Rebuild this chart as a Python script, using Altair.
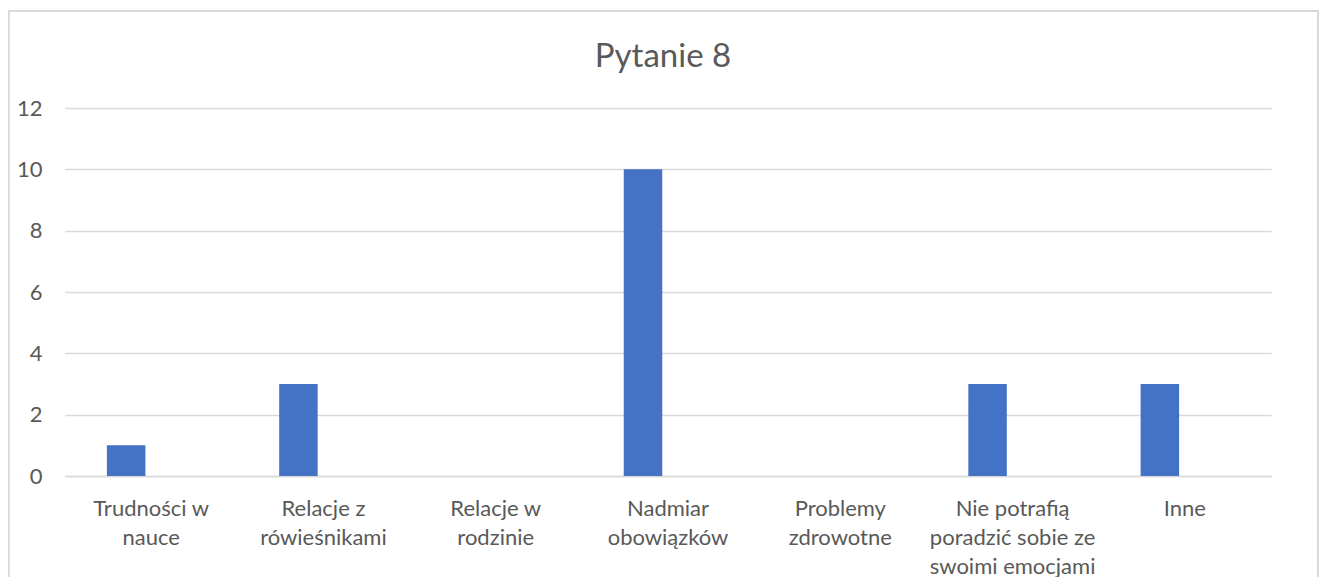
import altair as alt
import pandas as pd

categories = [
    "Trudności w\nnauce",
    "Relacje z\nrówieśnikami",
    "Relacje w\nrodzinie",
    "Nadmiar\nobowiązków",
    "Problemy\nzdrowotne",
    "Nie potrafią\nporadzić sobie ze\nswoimi emocjami",
    "Inne",
]
values = [1, 3, 0, 10, 0, 3, 3]
y_ticks = [0, 2, 4, 6, 8, 10, 12]
title_text = ["Pytanie 8"]

df = pd.DataFrame({"kategoria": categories, "liczba": values})
df_title = pd.DataFrame({"t": title_text})

GRAY_TEXT = "#595959"
GRID = "#d9d9d9"
FONT = "Lato"

x_enc = alt.X(
    "kategoria:N",
    sort=categories,
    scale=alt.Scale(paddingInner=0, paddingOuter=0),
    axis=alt.Axis(
        title=None,
        labelAngle=0,
        labelExpr="split(datum.label, '\\n')",
        labelFontSize=22,
        labelLineHeight=29,
        labelColor=GRAY_TEXT,
        labelFont=FONT,
        labelPadding=22,
        ticks=False,
        domain=True,
        domainColor=GRID,
        domainWidth=1.5,
        labelLimit=400,
        grid=False,
    ),
)

y_enc = alt.Y(
    "liczba:Q",
    scale=alt.Scale(domain=[0, 12], nice=False, zero=True),
    axis=alt.Axis(
        title=None,
        values=y_ticks,
        labelFontSize=22,
        labelColor=GRAY_TEXT,
        labelFont=FONT,
        labelPadding=23,
        ticks=False,
        domain=False,
        grid=True,
        gridColor=GRID,
        gridWidth=1.5,
    ),
)

bars = alt.Chart(df).mark_bar(color="#4472C4", width=38.5, xOffset=-25).encode(
    x=x_enc, y=y_enc
)

frame = alt.Chart(df).mark_rect(
    fill=None, stroke=GRID, strokeWidth=1.5, clip=False
).encode(
    x=alt.value(-56.5),
    x2=alt.value(1253),
    y=alt.value(-97),
    y2=alt.value(520),
)

title = alt.Chart(df_title).mark_text(
    font=FONT, fontSize=33, color=GRAY_TEXT, align="center", baseline="middle"
).encode(
    text="t:N",
    x=alt.value(598),
    y=alt.value(-51),
)

chart = (
    alt.layer(frame, bars, title)
    .properties(
        width=1206,
        height=368,
        padding={"left": 57, "top": 100, "right": 48, "bottom": 101},
        autosize=alt.AutoSizeParams(type="none"),
        background="white",
    )
    .configure_view(stroke=None)
)

chart.save("out.html", embed_options={"renderer": "svg", "actions": False})
